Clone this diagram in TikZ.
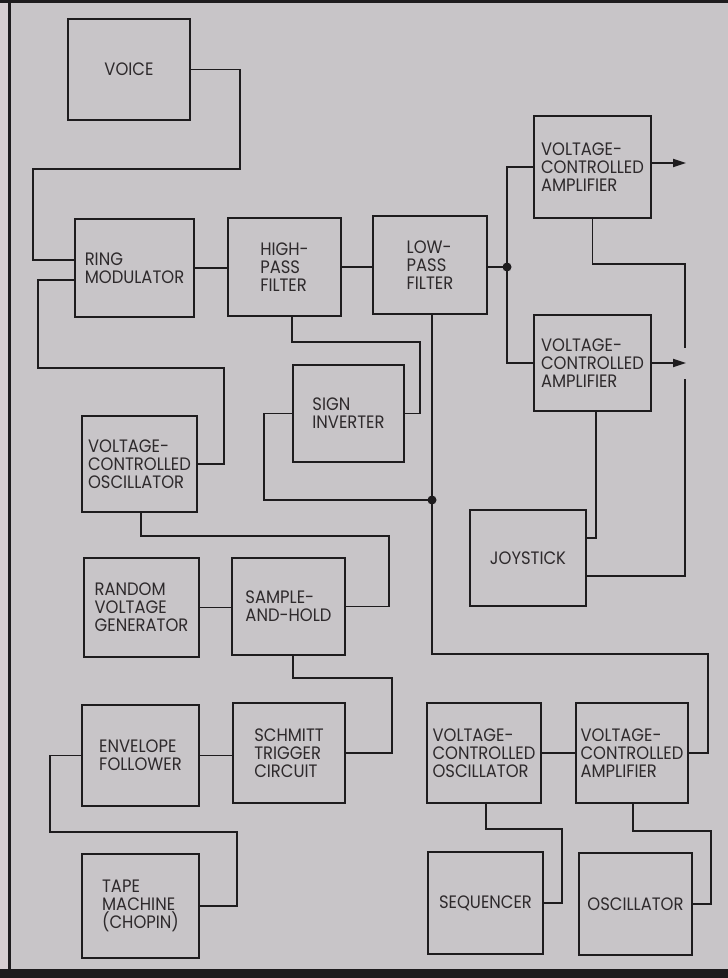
\documentclass[tikz,border=0pt]{standalone}
\usepackage{fontspec}
\setmainfont{Poppins}[FakeStretch=0.91]
\usetikzlibrary{arrows.meta,calc}
\definecolor{paper}{HTML}{C8C5C8}
\definecolor{ink}{HTML}{1E1C1E}
\definecolor{txt}{HTML}{2E2A2C}
\definecolor{edge}{HTML}{D6CED1}
\begin{document}
\begin{tikzpicture}[x=1pt,y=-1pt,
  blk/.style={draw=ink,line width=2.6pt,inner sep=0pt,align=left,text=txt,
    font=\fontsize{18}{18}\selectfont},
  wire/.style={draw=ink,line width=1.8pt},
  outarrow/.style={wire,-{Triangle[length=13pt,width=8pt]}},
  jdot/.style={circle,fill=ink,inner sep=0pt,minimum size=9pt}]
\useasboundingbox (0,0) rectangle (728,978);
% page
\fill[paper] (0,0) rectangle (728,978);
\fill[edge] (0,0) rectangle (8,978);
\fill[ink] (0,0) rectangle (728,3);
\fill[ink] (8,0) rectangle (11,978);
\fill[ink] (0,969) rectangle (728,978);

% blocks
\node[blk,minimum width=122pt,minimum height=101pt] (voice) at (129,69.5) {VOICE};
\node[blk,minimum width=119pt,minimum height=98pt] (ring) at (134.5,268) {RING\\MODULATOR};
\node[blk,minimum width=113pt,minimum height=98pt] (hpf) at (284.5,267) {HIGH-\\PASS\\FILTER};
\node[blk,minimum width=114pt,minimum height=98pt] (lpf) at (430,265) {LOW-\\PASS\\FILTER};
\node[blk,minimum width=117pt,minimum height=102pt] (vcaA) at (592.5,167) {VOLTAGE-\\CONTROLLED\\AMPLIFIER};
\node[blk,minimum width=117pt,minimum height=96pt] (vcaB) at (592.5,363) {VOLTAGE-\\CONTROLLED\\AMPLIFIER};
\node[blk,minimum width=111pt,minimum height=97pt] (sign) at (348.5,413.5) {SIGN\\INVERTER};
\node[blk,minimum width=115pt,minimum height=96pt] (vcoA) at (139.5,464) {VOLTAGE-\\CONTROLLED\\OSCILLATOR};
\node[blk,minimum width=116pt,minimum height=96pt] (joy) at (528,558) {JOYSTICK};
\node[blk,minimum width=115pt,minimum height=99pt] (rvg) at (141.5,607.5) {RANDOM\\VOLTAGE\\GENERATOR};
\node[blk,minimum width=113pt,minimum height=97pt] (sh) at (288.5,606.5) {SAMPLE-\\AND-HOLD};
\node[blk,minimum width=117pt,minimum height=101pt] (env) at (140.5,755.5) {ENVELOPE\\FOLLOWER};
\node[blk,minimum width=112pt,minimum height=100pt] (schmitt) at (289,753) {SCHMITT\\TRIGGER\\CIRCUIT};
\node[blk,minimum width=114pt,minimum height=100pt] (vcoB) at (484,753) {VOLTAGE-\\CONTROLLED\\OSCILLATOR};
\node[blk,minimum width=112pt,minimum height=100pt] (vcaC) at (632,753) {VOLTAGE-\\CONTROLLED\\AMPLIFIER};
\node[blk,minimum width=117pt,minimum height=104pt] (tape) at (140.5,906) {TAPE\\MACHINE\\(CHOPIN)};
\node[blk,minimum width=115pt,minimum height=102pt] (seq) at (485.5,903) {SEQUENCER};
\node[blk,minimum width=113pt,minimum height=102pt] (osc) at (635.5,904) {OSCILLATOR};

% junctions
\node[jdot] (j1) at (507,267) {};
\node[jdot] (j2) at (432,500) {};

% connectors
\draw[wire] (voice.east) -| (240,169) -| (33,260) -- (ring.west |- 0,260);
\draw[wire] (ring.west |- 0,280) -- (38,280) -- (38,368) -- (224,368) |- (vcoA.east);
\draw[wire] (ring.east) -- (ring.east -| hpf.west);
\draw[wire] (hpf.east) -- (hpf.east -| lpf.west);
\draw[wire] (lpf.east |- j1) -- (j1.center);
\draw[wire] (j1.center) |- (vcaA.west);
\draw[wire] (j1.center) |- (vcaB.west);
\draw[outarrow] (vcaA.east |- 0,163) -- (686,163);
\draw[outarrow] (vcaB.east |- 0,363) -- (686,363);
\draw[wire] (vcaA.south) |- (685,264) -- (685,348);
\draw[wire] (joy.east |- 0,576) -| (685,379);
\draw[wire] (vcaB.south -| 596,0) |- (joy.east |- 0,538);
\draw[wire] (hpf.south -| 292,0) |- (420,342) |- (sign.east);
\draw[wire] (lpf.south -| j2) -- (j2.center) |- (708,654) |- (vcaC.east);
\draw[wire] (sign.west) -| (264,500) -- (j2.center);
\draw[wire] (vcoA.south -| 141,0) |- (389,536) |- (sh.east);
\draw[wire] (rvg.east) -- (rvg.east -| sh.west);
\draw[wire] (sh.south -| 293,0) |- (392,678) |- (schmitt.east);
\draw[wire] (env.east) -- (env.east -| schmitt.west);
\draw[wire] (env.west) -| (50,832) -| (237,906) -- (tape.east);
\draw[wire] (vcoB.east) -- (vcoB.east -| vcaC.west);
\draw[wire] (vcoB.south -| 486,0) |- (562,829) |- (seq.east);
\draw[wire] (vcaC.south -| 633,0) |- (711,831) |- (osc.east);
\end{tikzpicture}
\end{document}
